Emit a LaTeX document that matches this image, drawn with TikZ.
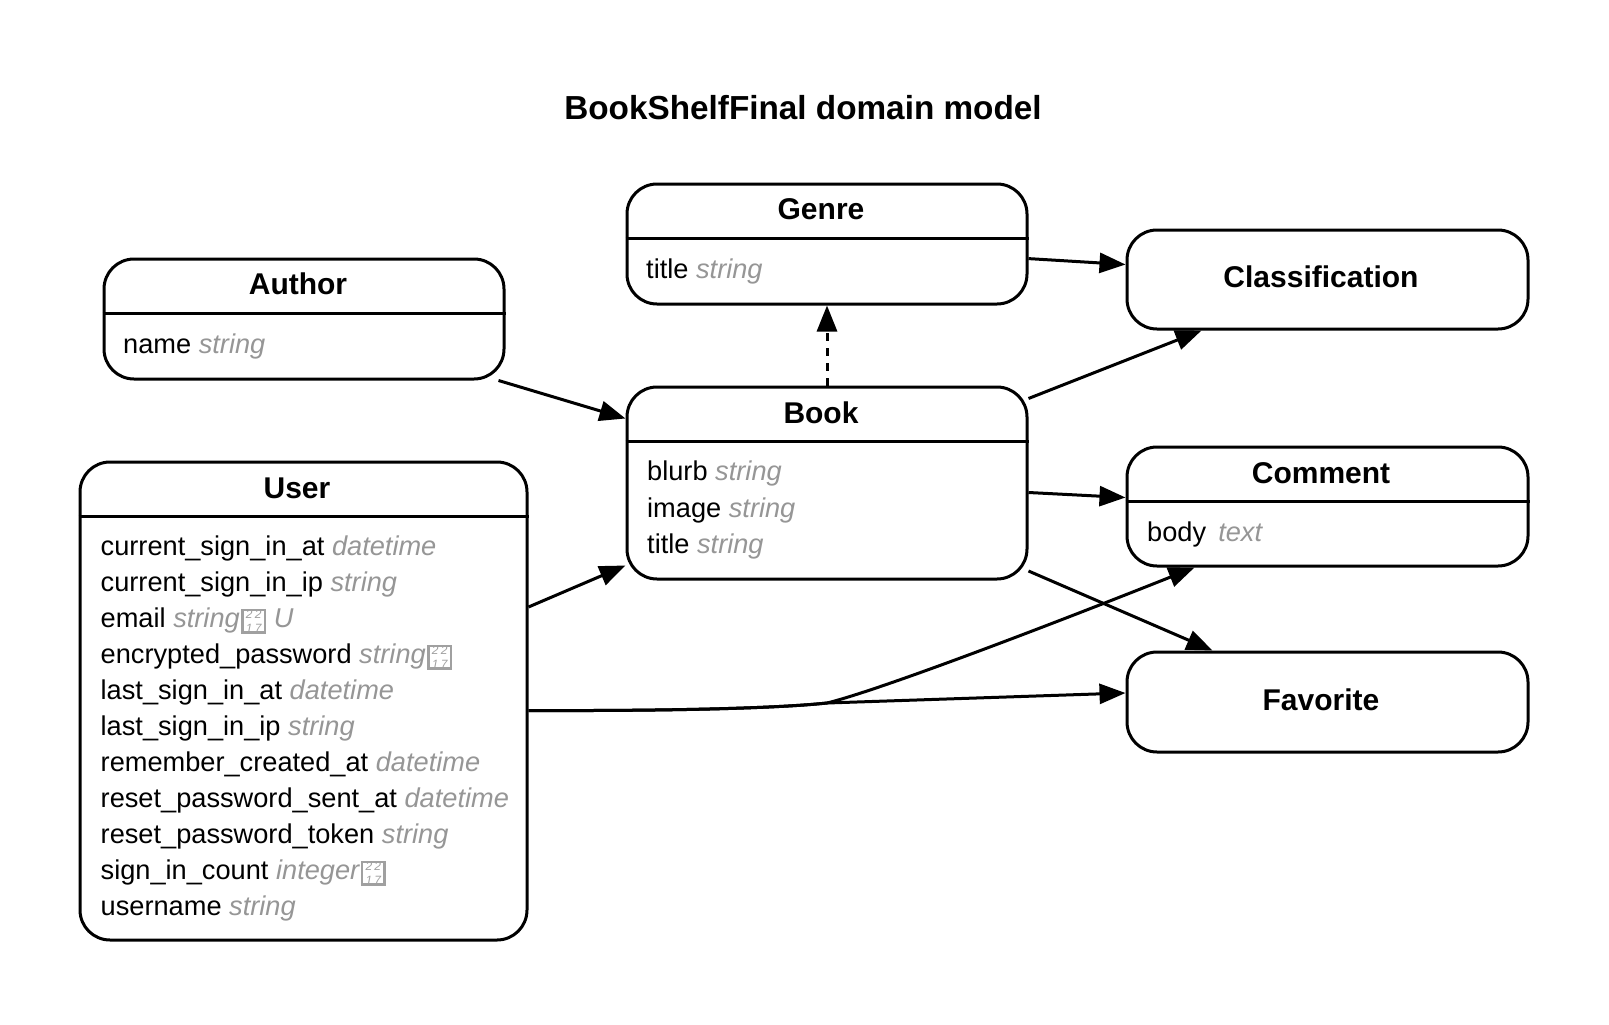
\documentclass[tikz,border=0pt]{standalone}
\usepackage{fontspec}
\setmainfont{Liberation Sans}
\usetikzlibrary{arrows.meta,calc}
\definecolor{typegray}{RGB}{150,150,150}
\definecolor{tofugray}{RGB}{160,160,160}
\newcommand\ty[1]{\textcolor{typegray}{\itshape #1}}
\newcommand\tofu{\kern1.5pt\raisebox{-4pt}{\textcolor{tofugray}{\fboxrule=2.5pt\fboxsep=0pt\fbox{\vbox to 20pt{\hsize=20pt\vss\fontsize{12}{12}\selectfont\itshape\hbox to 20pt{\hss 2\hss 2\hss}\kern2pt\hbox to 20pt{\hss 1\hss 7\hss}\vss}}}}}
\begin{document}
\begin{tikzpicture}[x=1pt,y=-1pt,
  entity/.style={draw, line width=3pt, rounded corners=30pt, inner sep=0pt},
  head/.style={font=\fontsize{30}{36}\selectfont\bfseries, anchor=base, inner sep=0pt},
  attr/.style={font=\fontsize{27.2}{32}\selectfont, anchor=base west, inner sep=0pt},
  titletext/.style={font=\fontsize{33.3}{40}\selectfont\bfseries, anchor=base, inner sep=0pt},
  sepline/.style={line width=3pt},
  conn/.style={line width=3pt, -{Triangle[length=26pt,width=20pt]}},
  dconn/.style={conn, dash pattern=on 8pt off 7pt}
]
\useasboundingbox[fill=white] (0,0) rectangle (1609,1025);

\node[titletext] (title) at (803,119) {BookShelfFinal domain model};

% boxes
\node[entity, minimum width=400, minimum height=120] (genre) at (827,244) {};
\node[entity, minimum width=400, minimum height=120] (author) at (304,319) {};
\node[entity, minimum width=401, minimum height=99] (classification) at (1327.5,279.5) {};
\node[entity, minimum width=400, minimum height=192] (book) at (827,483) {};
\node[entity, minimum width=401, minimum height=119] (comment) at (1327.5,506.5) {};
\node[entity, minimum width=401, minimum height=100] (favorite) at (1327.5,702) {};
\node[entity, minimum width=447, minimum height=478] (user) at (303.5,701) {};

% separators
\foreach \n in {genre,author,book,comment,user}{
  \draw[sepline] ($(\n.north west)+(0,56)$) -- ($(\n.north east)+(0,56)$);
}

% headers
\node[head] (genreh) at (821,219.5) {Genre};
\node[head] (authorh) at (298,294.5) {Author};
\node[head] (classh) at (1321,287.5) {Classification};
\node[head] (bookh) at (821,423) {Book};
\node[head] (commenth) at (1321,483.5) {Comment};
\node[head] (favoriteh) at (1321,710.5) {Favorite};
\node[head] (userh) at (297,498) {User};

% attributes
\node[attr] (a1) at (123,353) {name \ty{string}};
\node[attr] (g1) at (646,278) {title \ty{string}};
\node[attr] (b1) at (647,480) {blurb \ty{string}};
\node[attr] (b2) at (647,517) {image \ty{string}};
\node[attr] (b3) at (647,553) {title \ty{string}};
\node[attr] (c1) at (1147,541.5) {body \,\ty{text}};

\node[attr] (u1) at (100.5,555) {current\_sign\_in\_at \ty{datetime}};
\node[attr] (u2) at (100.5,591) {current\_sign\_in\_ip \ty{string}};
\node[attr] (u3) at (100.5,627) {email \ty{string}\tofu\ \ty{U}};
\node[attr] (u4) at (100.5,663) {encrypted\_password \ty{string}\tofu};
\node[attr] (u5) at (100.5,699) {last\_sign\_in\_at \ty{datetime}};
\node[attr] (u6) at (100.5,735) {last\_sign\_in\_ip \ty{string}};
\node[attr] (u7) at (100.5,771) {remember\_created\_at \ty{datetime}};
\node[attr] (u8) at (100.5,807) {reset\_password\_sent\_at \ty{datetime}};
\node[attr] (u9) at (100.5,843) {reset\_password\_token \ty{string}};
\node[attr] (u10) at (100.5,879) {sign\_in\_count \ty{integer}\tofu};
\node[attr] (u11) at (100.5,915) {username \ty{string}};

% connectors
\draw[conn] ($(genre.east)+(0,14.6)$) -- ($(classification.west)+(0,-15)$);
\draw[conn] ($(book.north east)+(0,13)$) -- ($(classification.south west)+(76,0)$);
\draw[dconn] (book.north) -- (genre.south);
\draw[conn] ($(author.south east)+(-7,0)$) -- ($(book.north west)+(0,33)$);
\draw[conn] ($(book.east)+(0,9.5)$) -- ($(comment.west)+(0,-9)$);
\draw[conn] ($(book.south east)+(0,-9.5)$) -- ($(favorite.north west)+(87,0)$);
\draw[conn] ($(user.north east)+(0,146.5)$) -- ($(book.south west)+(0,-15)$);
\coordinate (ubr) at ($(user.north east)+(0,250)$);
\coordinate (mid) at (827,703);
\draw[conn] (ubr) .. controls (680,711) and (780,708) .. (mid) .. controls (880,690) and (1050,625) .. ($(comment.south west)+(69,0)$);
\draw[conn] (ubr) .. controls (680,711) and (780,708) .. (mid) -- ($(favorite.west)+(0,-9)$);
\end{tikzpicture}
\end{document}
